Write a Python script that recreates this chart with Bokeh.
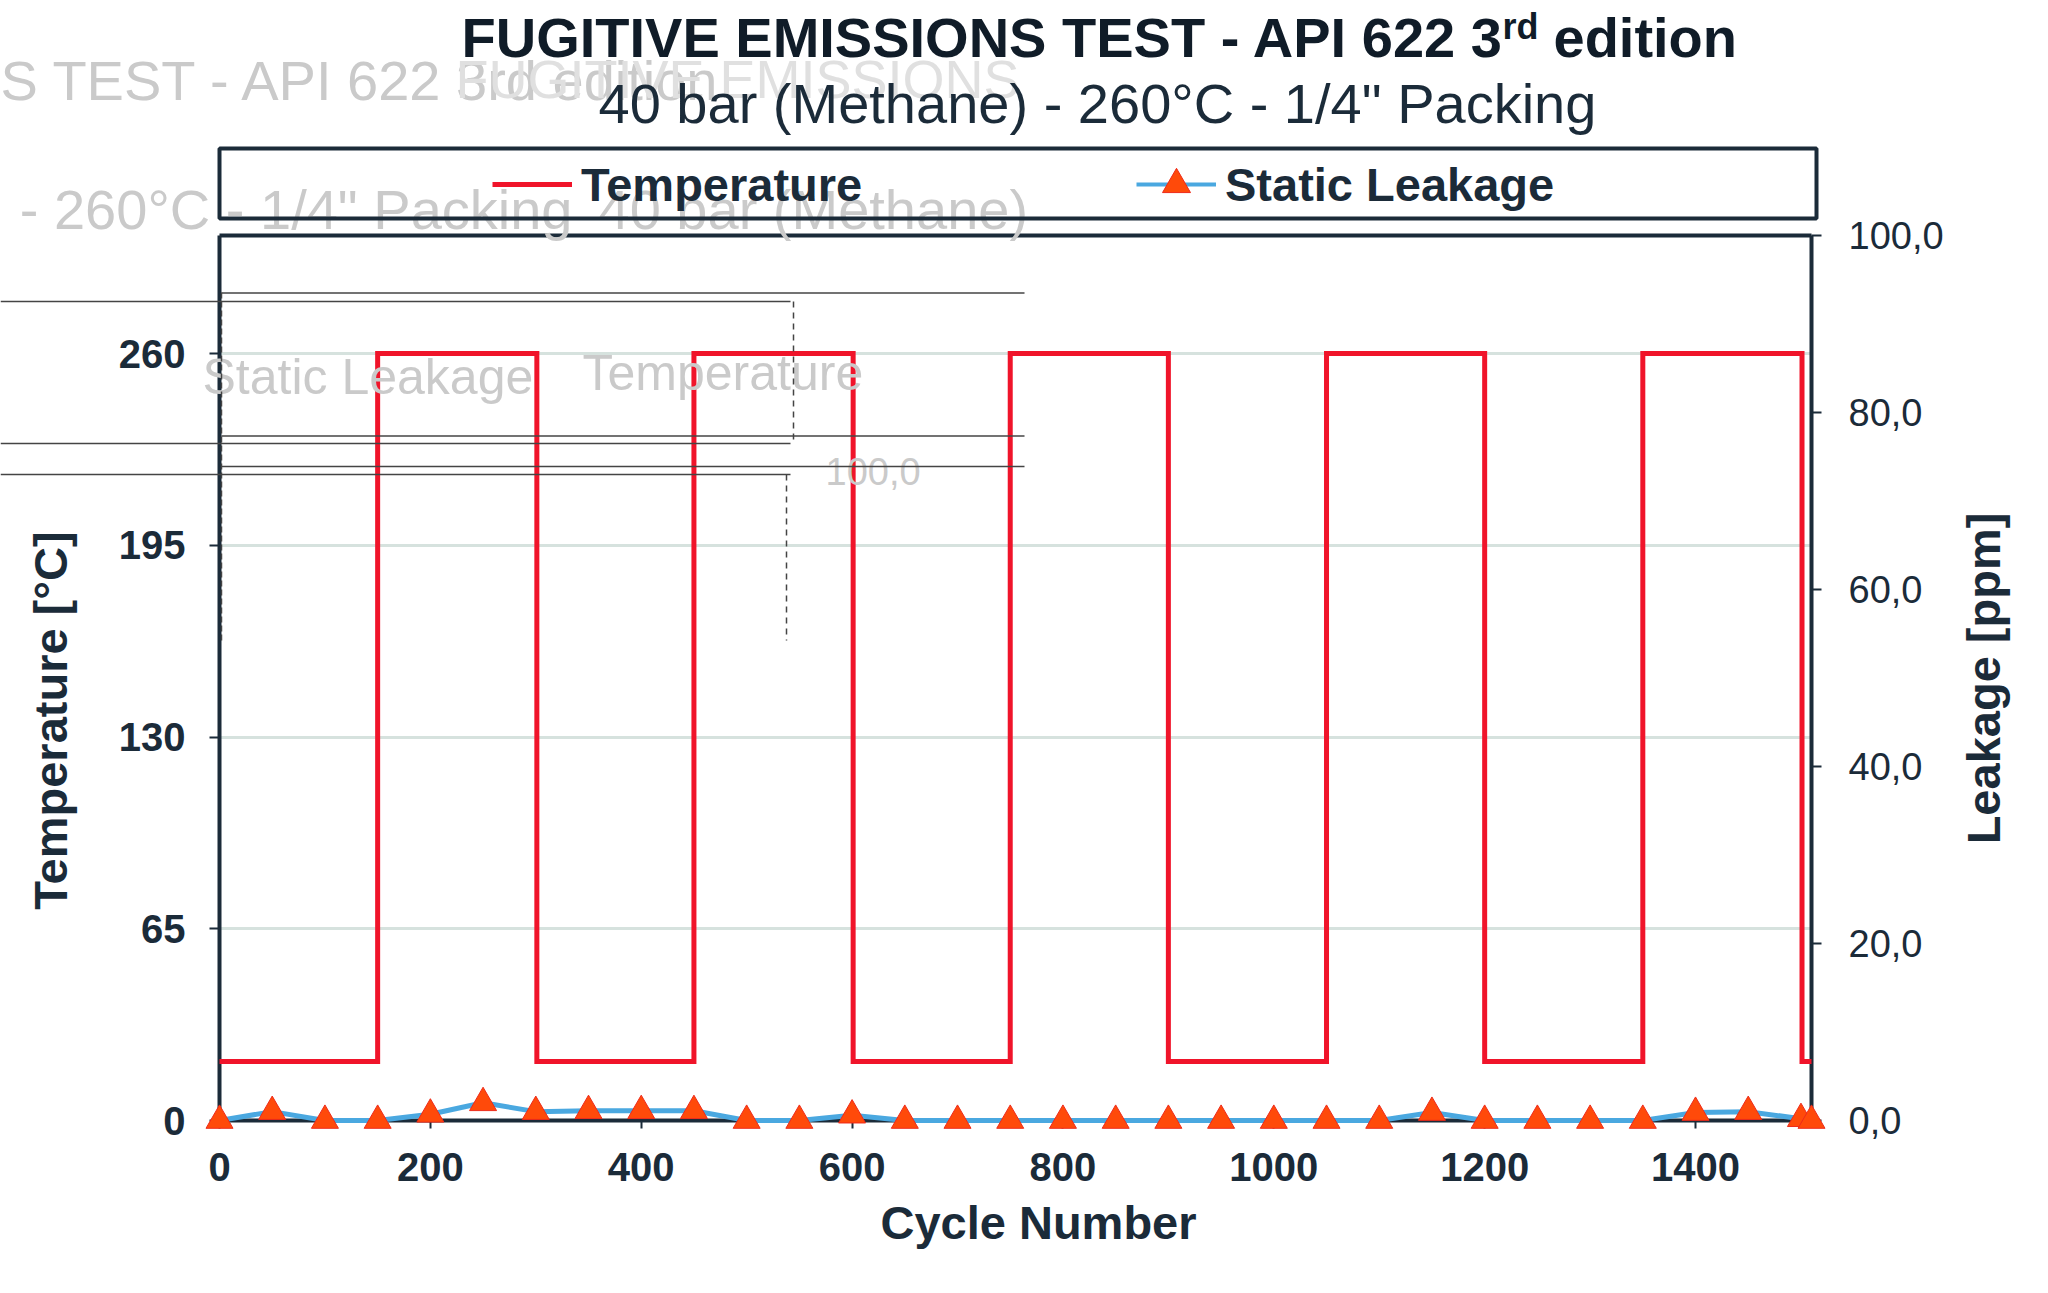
import math
from bokeh.plotting import figure
from bokeh.models import Range1d, LinearAxis, Label, BoxAnnotation, PolyAnnotation, Legend, LegendItem, FixedTicker
from bokeh.embed import file_html
from bokeh.resources import INLINE

temp_cycles = [0,150,150,301,301,450,450,601,601,750,750,900,900,1050,1050,1200,1200,1350,1350,1501,1501,1510]
temp_values = [20,20,260,260,20,20,260,260,20,20,260,260,20,20,260,260,20,20,260,260,20,20]
leak_cycles = [0,50,100,150,200,250,300,350,400,450,500,550,600,650,700,750,800,850,900,950,1000,1050,1100,1150,1200,1250,1300,1350,1400,1450,1500,1510]
leak_values = [0,1.0,0,0,0.7,2.0,1.0,1.1,1.1,1.1,0,0,0.6,0,0,0,0,0,0,0,0,0,0,0.9,0,0,0,0,0.9,1.0,0.2,0]
x_ticks = [0,200,400,600,800,1000,1200,1400]
left_ticks = [0,65,130,195,260]
right_ticks = [0,20,40,60,80,100]
right_labels = {0:"0,0",20:"20,0",40:"40,0",60:"60,0",80:"80,0",100:"100,0"}

DARK = "#1b2b39"
FONT = "Liberation Sans"
RED = "#f0142a"
BLUE = "#4aa8e0"
ORANGE = "#ff4a0a"
W, H = 2040, 1285
FL, FT, FW, FH = 219, 235, 1592, 885
NAN = float("nan")

p = figure(width=W, height=H, output_backend="svg", toolbar_location=None,
           x_range=Range1d(0, 1510), y_range=Range1d(0, 300),
           frame_width=FW, frame_height=FH,
           min_border_left=FL, min_border_top=FT, min_border_right=W-FL-FW, min_border_bottom=H-FT-FH,
           background_fill_color="white", border_fill_color="white", outline_line_color=None, title=None)
p.extra_y_ranges = {"leak": Range1d(0, 100)}

p.xgrid.visible = False
p.ygrid.ticker = FixedTicker(ticks=left_ticks)
p.ygrid.grid_line_color = "#d6e2de"
p.ygrid.grid_line_width = 3

def style(ax, ticks, bold=True, size="40px", standoff=22, out=8):
    ax.ticker = FixedTicker(ticks=ticks)
    ax.axis_line_color = DARK
    ax.axis_line_width = 4
    ax.major_tick_line_color = DARK
    ax.major_tick_line_width = 2
    ax.major_tick_in = 0
    ax.major_tick_out = out
    ax.minor_tick_line_color = None
    ax.major_label_text_font = FONT
    ax.major_label_text_font_size = size
    ax.major_label_text_font_style = "bold" if bold else "normal"
    ax.major_label_text_color = DARK
    ax.major_label_standoff = standoff

style(p.xaxis[0], x_ticks, standoff=24)
style(p.yaxis[0], left_ticks, standoff=24, out=10)
p.yaxis[0].major_label_orientation = "horizontal"
right = LinearAxis(y_range_name="leak")
style(right, right_ticks, bold=False, size="38px", standoff=27, out=10)
right.major_label_overrides = right_labels
p.add_layout(right, "right")
top = LinearAxis(axis_line_color=DARK, axis_line_width=4, major_tick_line_color=None, minor_tick_line_color=None,
                 major_label_text_color=None, major_label_text_font_size="1px")
p.add_layout(top, "above")

p.line(temp_cycles, temp_values, line_color=RED, line_width=5, line_join="miter", level="overlay")
p.line(leak_cycles, leak_values, y_range_name="leak", line_color=BLUE, line_width=5, level="overlay")
p.scatter(leak_cycles, leak_values, y_range_name="leak", marker="triangle", size=27,
          fill_color=ORANGE, line_color="#ee2a1a", line_width=1, level="overlay")

# transparent full-page layer for the titles, axis titles, legend and scanned-in ghost marks
o = figure(width=W, height=H, output_backend="svg", toolbar_location=None,
           x_range=Range1d(0, W), y_range=Range1d(H, 0), x_axis_location=None, y_axis_location=None,
           frame_width=W, frame_height=H, min_border=0,
           background_fill_color=None, border_fill_color=None, outline_line_color=None, title=None,
           styles={"position": "absolute", "left": "0px", "top": "0px"})
o.xgrid.visible = False
o.ygrid.visible = False

def label(text, x, y, size, bold=False, color=DARK, align="left", base="middle", angle=0):
    o.add_layout(Label(text=text, x=x, y=y, x_units="canvas", y_units="canvas",
                       text_font=FONT, text_font_size=f"{size}px",
                       text_font_style="bold" if bold else "normal",
                       text_color=color, text_align=align, text_baseline=base, angle=angle))

def stroke(xs, ys, dash="solid", width=1.5):
    o.add_layout(PolyAnnotation(xs=list(xs), ys=list(ys), xs_units="canvas", ys_units="canvas",
                                fill_alpha=0, line_color="#444444", line_alpha=1, line_width=width, line_dash=dash))

GHOST = "#cacaca"
label("S TEST - API 622 3rd edition", 0, 80, 56, color=GHOST)
label("FUGITIVE EMISSIONS", 455, 78, 54, color="#e0e0e0")
label("- 260°C - 1/4\" Packing", 572, 209, 56, color=GHOST, align="right")
label("40 bar (Methane)", 598, 209, 56, color=GHOST)
label("Static Leakage", 202, 376, 50, color=GHOST)
label("Temperature", 582, 372, 50, color=GHOST)
label("100,0", 825, 471, 38, color=GHOST)

for ys in [292.5, 435.5, 466]:
    stroke([221, 1024], [ys, ys])
for ys in [301, 443, 474]:
    stroke([0, 790], [ys, ys])
stroke([793, 793], [301, 443], dash=[6, 5])
stroke([786, 786], [474, 640], dash=[6, 5])
stroke([221, 221], [292, 640], dash=[6, 3])

o.add_layout(BoxAnnotation(left=219, right=1816, top=148, bottom=218,
                           left_units="canvas", right_units="canvas", top_units="canvas", bottom_units="canvas",
                           fill_alpha=0, line_color=DARK, line_width=4, line_alpha=1))

k_temp = o.line([NAN], [NAN], line_color=RED, line_width=5)
k_leak = o.line([NAN], [NAN], line_color=BLUE, line_width=4)
k_mark = o.scatter([NAN], [NAN], marker="triangle", fill_color=ORANGE, line_color="#ee2a1a", line_width=1)
legend = Legend(items=[LegendItem(label="Temperature", renderers=[k_temp]),
                       LegendItem(label="Static Leakage", renderers=[k_leak, k_mark])],
                orientation="horizontal", location=(492, H-184-35),
                border_line_color=None, background_fill_alpha=0,
                padding=0, margin=0, glyph_width=80, glyph_height=70, label_standoff=9,
                label_width=340, spacing=215,
                label_text_font=FONT, label_text_font_size="47px", label_text_font_style="bold",
                label_text_color=DARK, label_height=40)
o.add_layout(legend, "center")

label("FUGITIVE EMISSIONS TEST - API 622 3", 461, 37, 56, bold=True, color="#101c28")
label("rd", 1502, 26, 36, bold=True, color="#101c28")
label("edition", 1553, 37, 56, bold=True, color="#101c28")
label("40 bar (Methane) - 260°C - 1/4\" Packing", 598, 103, 56, color=DARK)

label("Temperature [°C]", 50, 720, 47, bold=True, align="center", angle=math.pi/2)
label("Leakage [ppm]", 1983, 678, 47, bold=True, align="center", angle=math.pi/2)
label("Cycle Number", 1038, 1222, 47, bold=True, align="center")

open("out.html", "w").write(file_html([p, o], INLINE))
